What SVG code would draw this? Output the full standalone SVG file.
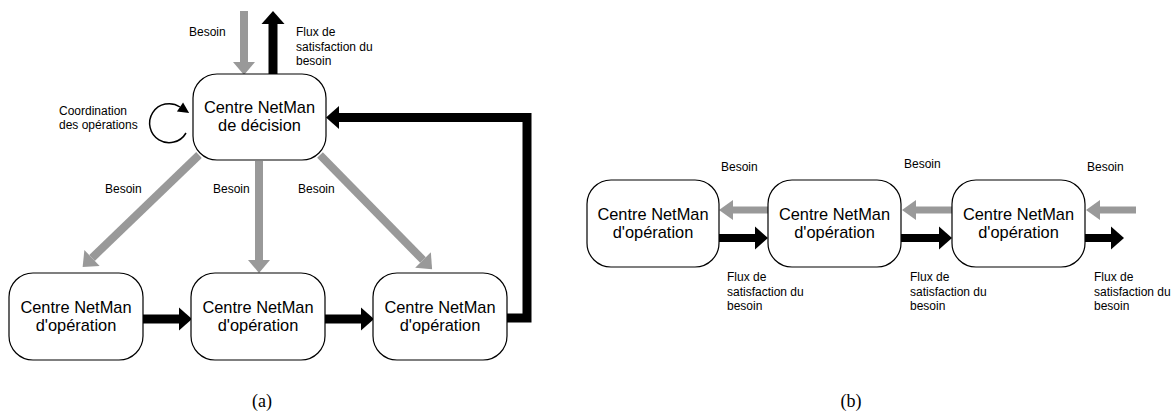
<svg xmlns="http://www.w3.org/2000/svg" width="1173" height="417" viewBox="0 0 1173 417">
  <style>
    .node rect { fill: #ffffff; stroke: #000000; stroke-width: 1.2; }
    .node text { font-family: "Liberation Sans", Arial, sans-serif; font-size: 16.4px; fill: #000; text-anchor: middle; }
    .lbl { font-family: "Liberation Sans", Arial, sans-serif; font-size: 12px; fill: #000; }
    .cap { font-family: "Liberation Serif", "Times New Roman", serif; font-size: 18px; fill: #000; text-anchor: middle; }
    .need { fill: none; stroke: #999999; stroke-width: 8; stroke-linecap: butt; marker-end: url(#headGray); }
    .need-b { fill: none; stroke: #999999; stroke-width: 7; stroke-linecap: butt; marker-end: url(#headGraySmall); }
    .flow { fill: none; stroke: #000000; stroke-width: 9; stroke-linecap: butt; stroke-linejoin: miter; marker-end: url(#headBlack); }
    .flow-b { fill: none; stroke: #000000; stroke-width: 8; stroke-linecap: butt; marker-end: url(#headBlack); }
    .loop { fill: none; stroke: #000000; stroke-width: 1.5; marker-end: url(#headLoop); }
  </style>
  <defs>
    <marker id="headGray" markerUnits="userSpaceOnUse" markerWidth="14" markerHeight="22" refX="0" refY="11" orient="auto" overflow="visible">
      <path d="M0,0 L13,11 L0,22 Z" fill="#999999"/>
    </marker>
    <marker id="headGraySmall" markerUnits="userSpaceOnUse" markerWidth="14" markerHeight="20" refX="0" refY="10" orient="auto" overflow="visible">
      <path d="M0,0 L14,10 L0,20 Z" fill="#999999"/>
    </marker>
    <marker id="headBlack" markerUnits="userSpaceOnUse" markerWidth="13" markerHeight="23" refX="0" refY="11.5" orient="auto" overflow="visible">
      <path d="M0,0 L13,11.5 L0,23 Z" fill="#000000"/>
    </marker>
    <marker id="headLoop" markerUnits="userSpaceOnUse" markerWidth="11" markerHeight="11" refX="0" refY="5.5" orient="auto" overflow="visible">
      <path d="M0,0 L11,5.5 L0,11 Z" fill="#000000"/>
    </marker>
  </defs>

  <!-- connectors -->
  <g id="connectors">
    <!-- (a) -->
    <path class="need" d="M244,11 V62"/>
    <path class="flow" d="M273,74 V24"/>
    <path class="flow" d="M507,318 H527 V117.5 H339"/>
    <path class="need" d="M199,155 L92,258"/>
    <path class="need" d="M259,161 V260"/>
    <path class="need" d="M320,155 L423,260"/>
    <path class="flow" d="M143,319 H179"/>
    <path class="flow" d="M325,319 H361"/>
    <path class="loop" d="M186,133 A19.5,19.5 0 1 1 180,107"/>
    <!-- (b) -->
    <path class="need-b" d="M768,210 H733"/>
    <path class="need-b" d="M952,210 H916"/>
    <path class="need-b" d="M1136,210 H1100"/>
    <path class="flow-b" d="M719,238 H755"/>
    <path class="flow-b" d="M901,238 H939"/>
    <path class="flow-b" d="M1085,238 H1111"/>
  </g>

  <!-- (a) nodes -->
  <g id="decision" class="node">
    <rect x="193" y="74" width="133" height="86" rx="24" ry="24"/>
    <text x="259.5" y="113">Centre NetMan</text>
    <text x="259.5" y="131">de décision</text>
  </g>
  <g id="op-a1" class="node">
    <rect x="9" y="273" width="134" height="87" rx="24" ry="24"/>
    <text x="76" y="312.5">Centre NetMan</text>
    <text x="76" y="330.5">d'opération</text>
  </g>
  <g id="op-a2" class="node">
    <rect x="191" y="273" width="134" height="87" rx="24" ry="24"/>
    <text x="258" y="312.5">Centre NetMan</text>
    <text x="258" y="330.5">d'opération</text>
  </g>
  <g id="op-a3" class="node">
    <rect x="373" y="273" width="134" height="87" rx="24" ry="24"/>
    <text x="440" y="312.5">Centre NetMan</text>
    <text x="440" y="330.5">d'opération</text>
  </g>

  <!-- (b) nodes -->
  <g id="op-b1" class="node">
    <rect x="587" y="180" width="132" height="87" rx="24" ry="24"/>
    <text x="653" y="219.5">Centre NetMan</text>
    <text x="653" y="237.5">d'opération</text>
  </g>
  <g id="op-b2" class="node">
    <rect x="768" y="180" width="133" height="87" rx="24" ry="24"/>
    <text x="834.5" y="219.5">Centre NetMan</text>
    <text x="834.5" y="237.5">d'opération</text>
  </g>
  <g id="op-b3" class="node">
    <rect x="952" y="180" width="133" height="87" rx="24" ry="24"/>
    <text x="1018.5" y="219.5">Centre NetMan</text>
    <text x="1018.5" y="237.5">d'opération</text>
  </g>

  <!-- labels (a) -->
  <g id="labels-a">
    <text class="lbl" x="189" y="36">Besoin</text>
    <text class="lbl" x="296" y="36">Flux de</text>
    <text class="lbl" x="296" y="50.5">satisfaction du</text>
    <text class="lbl" x="296" y="65">besoin</text>
    <text class="lbl" x="59" y="114.5">Coordination</text>
    <text class="lbl" x="59" y="128.5">des opérations</text>
    <text class="lbl" x="105" y="193">Besoin</text>
    <text class="lbl" x="213" y="193">Besoin</text>
    <text class="lbl" x="298" y="193">Besoin</text>
  </g>

  <!-- labels (b) -->
  <g id="labels-b">
    <text class="lbl" x="721" y="171">Besoin</text>
    <text class="lbl" x="904" y="168">Besoin</text>
    <text class="lbl" x="1087" y="171">Besoin</text>
    <text class="lbl" x="727" y="281">Flux de</text>
    <text class="lbl" x="727" y="295.5">satisfaction du</text>
    <text class="lbl" x="727" y="310">besoin</text>
    <text class="lbl" x="910" y="281">Flux de</text>
    <text class="lbl" x="910" y="295.5">satisfaction du</text>
    <text class="lbl" x="910" y="310">besoin</text>
    <text class="lbl" x="1094" y="281">Flux de</text>
    <text class="lbl" x="1094" y="295.5">satisfaction du</text>
    <text class="lbl" x="1094" y="310">besoin</text>
  </g>

  <!-- captions -->
  <text class="cap" x="262" y="407">(a)</text>
  <text class="cap" x="851" y="407">(b)</text>
</svg>
